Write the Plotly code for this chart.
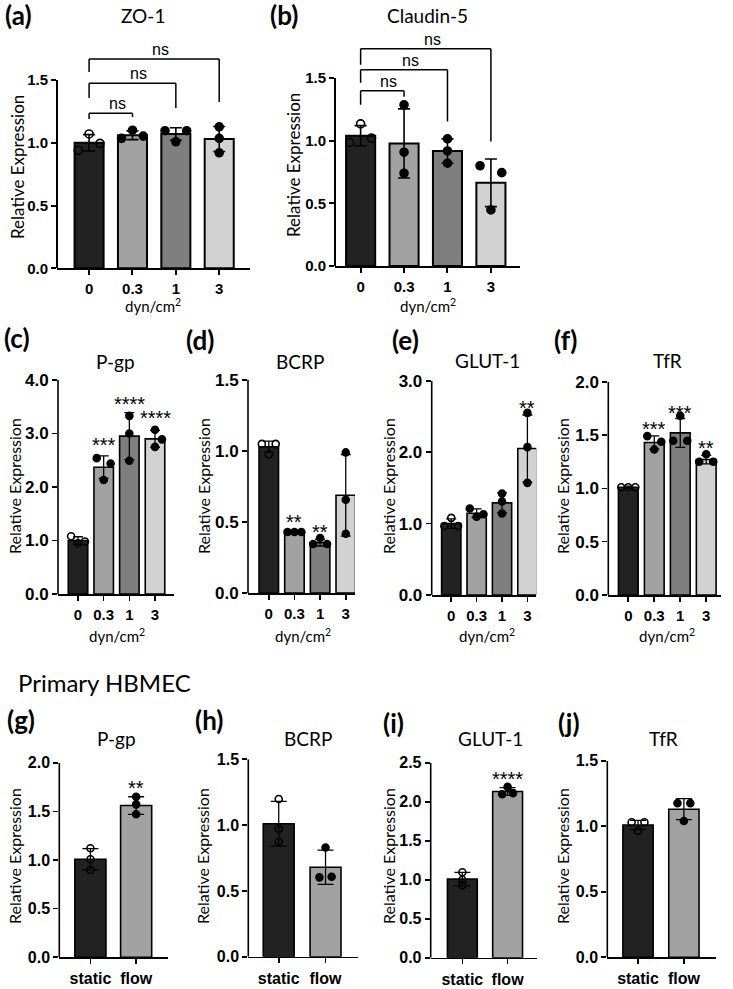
import plotly.graph_objects as go

W, H = 733, 989

# ---------------- data ----------------
DOSE_LABELS = ["0", "0.3", "1", "3"]
HBMEC_LABELS = ["static", "flow"]

ZO1_MEAN = [1.00, 1.06, 1.07, 1.03]
ZO1_SD = [0.065, 0.035, 0.05, 0.10]
ZO1_POINTS = [[1.07, 0.94, 0.995], [1.10, 1.035, 1.053], [1.096, 1.096, 1.008], [1.127, 1.035, 0.92]]

CLD5_MEAN = [1.04, 0.978, 0.917, 0.664]
CLD5_SD = [0.08, 0.276, 0.097, 0.19]
CLD5_POINTS = [[1.134, 0.985, 1.02], [1.286, 0.908, 0.74], [1.014, 0.918, 0.82], [0.80, 0.745, 0.447]]

PGP_MEAN = [1.0, 2.37, 2.95, 2.9]
PGP_SD = [0.07, 0.21, 0.44, 0.16]
PGP_POINTS = [[1.08, 0.95, 0.98], [2.54, 2.44, 2.13], [3.33, 3.0, 2.49], [3.07, 2.89, 2.75]]

BCRP_MEAN = [1.03, 0.43, 0.355, 0.688]
BCRP_SD = [0.04, 0.006, 0.024, 0.287]
BCRP_POINTS = [[1.05, 1.05, 0.975], [0.43, 0.43, 0.43], [0.345, 0.387, 0.345], [0.99, 0.657, 0.417]]

GLUT1_MEAN = [1.0, 1.145, 1.29, 2.05]
GLUT1_SD = [0.066, 0.06, 0.14, 0.47]
GLUT1_POINTS = [[1.08, 0.965, 0.965], [1.21, 1.13, 1.095], [1.42, 1.31, 1.14], [2.55, 2.07, 1.57]]

TFR_MEAN = [1.01, 1.43, 1.52, 1.27]
TFR_SD = [0.01, 0.063, 0.135, 0.04]
TFR_POINTS = [[1.01, 1.01, 1.01], [1.49, 1.437, 1.365], [1.68, 1.446, 1.446], [1.32, 1.25, 1.25]]

H_PGP_MEAN = [1.008, 1.56]
H_PGP_SD = [0.11, 0.09]
H_PGP_POINTS = [[1.12, 1.007, 0.897], [1.65, 1.572, 1.47]]

H_BCRP_MEAN = [1.01, 0.68]
H_BCRP_SD = [0.17, 0.13]
H_BCRP_POINTS = [[1.198, 0.97, 0.874], [0.83, 0.603, 0.608]]

H_GLUT1_MEAN = [1.008, 2.13]
H_GLUT1_SD = [0.085, 0.05]
H_GLUT1_POINTS = [[1.095, 1.0, 0.93], [2.19, 2.095, 2.11]]

H_TFR_MEAN = [1.009, 1.13]
H_TFR_SD = [0.035, 0.08]
H_TFR_POINTS = [[1.03, 1.03, 0.966], [1.176, 1.176, 1.04]]

# significance marks: (bar index, y value, number of stars)
PGP_STARS = [(1, 2.90, 3), (2, 3.66, 4), (3, 3.41, 4)]
BCRP_STARS = [(1, 0.54, 2), (2, 0.47, 2)]
GLUT1_STARS = [(3, 2.70, 2)]
TFR_STARS = [(1, 1.61, 3), (2, 1.765, 3), (3, 1.437, 2)]
H_PGP_STARS = [(1, 1.80, 2)]
H_GLUT1_STARS = [(1, 2.37, 4)]

# comparison brackets: (from, to, top, left-end, right-end)
ZO1_BRACKETS = [(0, 1, 1.236, 1.19, 1.205), (0, 2, 1.475, 1.356, 1.276), (0, 3, 1.667, 1.563, 1.324)]
CLD5_BRACKETS = [(0, 1, 1.398, 1.286, 1.35), (0, 2, 1.565, 1.462, 1.153), (0, 3, 1.733, 1.605, 0.993)]

# ---------------- style ----------------
DOSE_COLORS = ["#222222", "#a2a2a2", "#7f7f7f", "#d2d2d2"]
HB_COLORS = ["#222222", "#a2a2a2"]

ZO1_JIT = [[0, -1, 1], [0, -1, 1], [-1, 1, 0], [0, 0, 0]]
CLD5_JIT = [[0, -1, 1], [0, 0, 0], [0, 0, 0], [-1, 1, 0]]
PGP_JIT = [[-1, 0, 1], [-1, 1, 0], [0, 0, 0], [0, 1, 0]]
BCRP_JIT = [[-1, 1, 0], [-1, 0, 1], [-1, 0, 1], [0, 0, 0]]
GLUT1_JIT = [[0, -1, 1], [-1, 1, 0], [0, 0, 0], [0, 0, 0]]
TFR_JIT = [[-1, 0, 1], [-1, 1, 0], [0, -1, 1], [0, -1, 1]]
H_PGP_JIT = [[0, 0, 0], [0, 0, 0]]
H_BCRP_JIT = [[0, 0, 0], [0, -1, 1]]
H_GLUT1_JIT = [[0, 0, 0], [0, -1, 1]]
H_TFR_JIT = [[-1, 1, 0], [-1, 1, 0]]

TICK_FONT = "Liberation Sans, Arial, sans-serif"
TEXT_FONT = "Lato, Open Sans, sans-serif"

panels = [
    dict(lab="(a)", title="ZO-1", cats=DOSE_LABELS, mean=ZO1_MEAN, sd=ZO1_SD, pts=ZO1_POINTS, jit=ZO1_JIT,
         colors=DOSE_COLORS, xl=57, xr=250, xrange=[-0.74, 3.71], ybot=268.3, ytop=80, ticks=[0, 0.5, 1.0, 1.5],
         ymax=1.9, bw=0.67, js=0.25, lw=2.0, ms=8, cap=6, xfs=15, yfs=15, brackets=ZO1_BRACKETS, stars=[],
         labpos=(3, 15), titlepos=(143, 15), ytpos=(17, 167), dyn=(153, 305), row=1),
    dict(lab="(b)", title="Claudin-5", cats=DOSE_LABELS, mean=CLD5_MEAN, sd=CLD5_SD, pts=CLD5_POINTS, jit=CLD5_JIT,
         colors=DOSE_COLORS, xl=335, xr=520, xrange=[-0.59, 3.67], ybot=266, ytop=78, ticks=[0, 0.5, 1.0, 1.5],
         ymax=1.9, bw=0.67, js=0.25, lw=2.0, ms=8, cap=6, xfs=15, yfs=15, brackets=CLD5_BRACKETS, stars=[],
         labpos=(268, 15), titlepos=(427, 15), ytpos=(293, 165), dyn=(428, 305), row=1),
    dict(lab="(c)", title="P-gp", cats=DOSE_LABELS, mean=PGP_MEAN, sd=PGP_SD, pts=PGP_POINTS, jit=PGP_JIT,
         colors=DOSE_COLORS, xl=58, xr=174, xrange=[-0.78, 3.74], ybot=594, ytop=380, ticks=[0, 1, 2, 3, 4],
         ymax=4, bw=0.76, js=0.27, lw=1.6, ms=7, cap=5, xfs=15, yfs=17, brackets=[], stars=PGP_STARS,
         labpos=(2, 338), titlepos=(115, 361), ytpos=(14, 486), dyn=(117, 635), row=2),
    dict(lab="(d)", title="BCRP", cats=DOSE_LABELS, mean=BCRP_MEAN, sd=BCRP_SD, pts=BCRP_POINTS, jit=BCRP_JIT,
         colors=DOSE_COLORS, xl=248, xr=355, xrange=[-0.81, 3.36], ybot=593, ytop=380, ticks=[0, 0.5, 1.0, 1.5],
         ymax=1.5, bw=0.76, js=0.27, lw=1.6, ms=7, cap=5, xfs=15, yfs=17, brackets=[], stars=BCRP_STARS,
         labpos=(184, 340), titlepos=(300, 361), ytpos=(203, 486), dyn=(303, 635), row=2),
    dict(lab="(e)", title="GLUT-1", cats=DOSE_LABELS, mean=GLUT1_MEAN, sd=GLUT1_SD, pts=GLUT1_POINTS, jit=GLUT1_JIT,
         colors=DOSE_COLORS, xl=431.7, xr=536.3, xrange=[-0.77, 3.35], ybot=595, ytop=380.7, ticks=[0, 1, 2, 3],
         ymax=3, bw=0.76, js=0.27, lw=1.6, ms=7, cap=5, xfs=15, yfs=17, brackets=[], stars=GLUT1_STARS,
         labpos=(390, 340), titlepos=(487, 360), ytpos=(388, 486), dyn=(487, 635), row=2),
    dict(lab="(f)", title="TfR", cats=DOSE_LABELS, mean=TFR_MEAN, sd=TFR_SD, pts=TFR_POINTS, jit=TFR_JIT,
         colors=DOSE_COLORS, xl=608.3, xr=721.3, xrange=[-0.77, 3.58], ybot=595, ytop=381.7, ticks=[0, 0.5, 1.0, 1.5, 2.0],
         ymax=2, bw=0.76, js=0.27, lw=1.6, ms=7, cap=5, xfs=15, yfs=17, brackets=[], stars=TFR_STARS,
         labpos=(552, 340), titlepos=(667, 360), ytpos=(562, 486), dyn=(667, 635), row=2),
    dict(lab="(g)", title="P-gp", cats=HBMEC_LABELS, mean=H_PGP_MEAN, sd=H_PGP_SD, pts=H_PGP_POINTS, jit=H_PGP_JIT,
         colors=HB_COLORS, xl=59.3, xr=167.7, xrange=[-0.68, 1.69], ybot=957.3, ytop=762.7, ticks=[0, 0.5, 1.0, 1.5, 2.0],
         ymax=2, bw=0.68, js=0.13, lw=1.6, ms=7, cap=8, xfs=16, yfs=16, brackets=[], stars=H_PGP_STARS,
         labpos=(5, 720), titlepos=(117, 738), ytpos=(14, 856), dyn=None, row=3),
    dict(lab="(h)", title="BCRP", cats=HBMEC_LABELS, mean=H_BCRP_MEAN, sd=H_BCRP_SD, pts=H_BCRP_POINTS, jit=H_BCRP_JIT,
         colors=HB_COLORS, xl=248.3, xr=358.3, xrange=[-0.65, 1.70], ybot=956.7, ytop=759.3, ticks=[0, 0.5, 1.0, 1.5],
         ymax=1.5, bw=0.66, js=0.13, lw=1.6, ms=7, cap=8, xfs=16, yfs=16, brackets=[], stars=[],
         labpos=(193, 720), titlepos=(308, 738), ytpos=(202, 856), dyn=None, row=3),
    dict(lab="(i)", title="GLUT-1", cats=HBMEC_LABELS, mean=H_GLUT1_MEAN, sd=H_GLUT1_SD, pts=H_GLUT1_POINTS, jit=H_GLUT1_JIT,
         colors=HB_COLORS, xl=430.7, xr=537, xrange=[-0.70, 1.65], ybot=957.7, ytop=762.7, ticks=[0, 0.5, 1.0, 1.5, 2.0, 2.5],
         ymax=2.5, bw=0.66, js=0.12, lw=1.6, ms=7, cap=8, xfs=16, yfs=16, brackets=[], stars=H_GLUT1_STARS,
         labpos=(381, 723), titlepos=(490, 738), ytpos=(388, 856), dyn=None, row=3),
    dict(lab="(j)", title="TfR", cats=HBMEC_LABELS, mean=H_TFR_MEAN, sd=H_TFR_SD, pts=H_TFR_POINTS, jit=H_TFR_JIT,
         colors=HB_COLORS, xl=607.3, xr=716, xrange=[-0.67, 1.70], ybot=957.3, ytop=760.7, ticks=[0, 0.5, 1.0, 1.5],
         ymax=1.5, bw=0.66, js=0.14, lw=1.6, ms=7, cap=8, xfs=16, yfs=16, brackets=[], stars=[],
         labpos=(556, 723), titlepos=(663, 738), ytpos=(562, 856), dyn=None, row=3),
]


def fx(p):
    return p / W


def fy(p):
    return 1 - p / H


fig = go.Figure()
annotations = []
shapes = []
layout = {}

for k, p in enumerate(panels, start=1):
    xa = "x" if k == 1 else f"x{k}"
    ya = "y" if k == 1 else f"y{k}"
    xkey = "xaxis" if k == 1 else f"xaxis{k}"
    ykey = "yaxis" if k == 1 else f"yaxis{k}"
    n = len(p["cats"])
    xs = list(range(n))

    top_tick = p["ticks"][-1]
    top_px = p["ybot"] - (p["ybot"] - p["ytop"]) * p["ymax"] / top_tick

    fig.add_trace(go.Bar(
        x=xs, y=p["mean"], width=p["bw"], xaxis=xa, yaxis=ya,
        marker=dict(color=p["colors"], line=dict(color="black", width=p["lw"])),
        error_y=dict(type="data", array=p["sd"], visible=True, color="black",
                     thickness=p["lw"] * 0.8, width=p["cap"]),
        showlegend=False, hoverinfo="skip",
    ))
    for gi, (vals, jits) in enumerate(zip(p["pts"], p["jit"])):
        ctrl = gi == 0
        fig.add_trace(go.Scatter(
            x=[gi + j * p["js"] for j in jits], y=vals, mode="markers", xaxis=xa, yaxis=ya,
            marker=dict(symbol="circle-open" if ctrl else "circle", size=p["ms"], color="black",
                        line=dict(color="black", width=1.6)),
            showlegend=False, hoverinfo="skip", cliponaxis=False,
        ))

    layout[xkey] = dict(
        domain=[fx(p["xl"]), fx(p["xr"])], range=p["xrange"], autorange=False, anchor=ya,
        showline=True, linecolor="black", linewidth=p["lw"], ticks="outside", ticklen=5,
        tickwidth=p["lw"], tickcolor="black", tickvals=xs, ticktext=p["cats"],
        tickfont=dict(family=TICK_FONT, size=p["xfs"], color="black", weight="bold"),
        showgrid=False, zeroline=False, fixedrange=True, ticklabelstandoff=1,
    )
    layout[ykey] = dict(
        domain=[fy(p["ybot"]), fy(top_px)], range=[0, p["ymax"]], autorange=False, anchor=xa,
        showline=False, ticks="outside", ticklen=5, tickwidth=p["lw"], tickcolor="black",
        tickvals=p["ticks"], tickformat=".1f",
        tickfont=dict(family=TICK_FONT, size=p["yfs"], color="black", weight="bold"),
        showgrid=False, zeroline=False, fixedrange=True,
    )
    shapes.append(dict(type="line", xref=f"{xa} domain", yref=ya, x0=0, x1=0, y0=0, y1=top_tick,
                       line=dict(color="black", width=p["lw"])))

    for (a, b, yt, yla, ylb) in p["brackets"]:
        shapes.append(dict(type="line", xref=xa, yref=ya, x0=a, x1=a, y0=yla, y1=yt,
                           line=dict(color="black", width=1.5)))
        shapes.append(dict(type="line", xref=xa, yref=ya, x0=a, x1=b, y0=yt, y1=yt,
                           line=dict(color="black", width=1.5)))
        shapes.append(dict(type="line", xref=xa, yref=ya, x0=b, x1=b, y0=yt, y1=ylb,
                           line=dict(color="black", width=1.5)))
        annotations.append(dict(x=(a + b) / 2 + 0.15, y=yt, xref=xa, yref=ya, text="ns", showarrow=False,
                                yanchor="bottom", xanchor="center", yshift=-1,
                                font=dict(family=TICK_FONT, size=16, color="black")))
    for (bi, yv, ns) in p["stars"]:
        annotations.append(dict(x=bi, y=yv, xref=xa, yref=ya, text="*" * ns, showarrow=False,
                                yanchor="middle", xanchor="center", yshift=-6,
                                font=dict(family=TICK_FONT, size=20, color="black")))

    annotations.append(dict(x=fx(p["labpos"][0]), y=fy(p["labpos"][1]), xref="paper", yref="paper",
                            text=f"<b>{p['lab']}</b>", showarrow=False, xanchor="left", yanchor="middle",
                            font=dict(family=TEXT_FONT, size=26, color="black")))
    annotations.append(dict(x=fx(p["titlepos"][0]), y=fy(p["titlepos"][1]), xref="paper", yref="paper",
                            text=p["title"], showarrow=False, xanchor="center", yanchor="middle",
                            font=dict(family=TEXT_FONT, size=19, color="black")))
    annotations.append(dict(x=fx(p["ytpos"][0]), y=fy(p["ytpos"][1]), xref="paper", yref="paper",
                            text="Relative Expression", textangle=-90, showarrow=False,
                            xanchor="center", yanchor="middle",
                            font=dict(family=TEXT_FONT, size=17 if p["row"] == 1 else 16, color="black")))
    if p["dyn"]:
        annotations.append(dict(x=fx(p["dyn"][0]), y=fy(p["dyn"][1]), xref="paper", yref="paper",
                                text="dyn/cm<sup>2</sup>", showarrow=False, xanchor="center", yanchor="middle",
                                font=dict(family=TEXT_FONT, size=15, color="black")))

annotations.append(dict(x=fx(16), y=fy(682), xref="paper", yref="paper", text="Primary HBMEC",
                        showarrow=False, xanchor="left", yanchor="middle",
                        font=dict(family=TEXT_FONT, size=24, color="black")))

fig.update_layout(
    width=W, height=H, margin=dict(l=0, r=0, t=0, b=0, autoexpand=False),
    paper_bgcolor="white", plot_bgcolor="white",
    annotations=annotations, shapes=shapes, showlegend=False,
    **layout,
)

fig.write_html("out.html", config={"displayModeBar": False, "staticPlot": True},
               post_script="document.body.style.margin='0';document.body.style.overflow='hidden';")
